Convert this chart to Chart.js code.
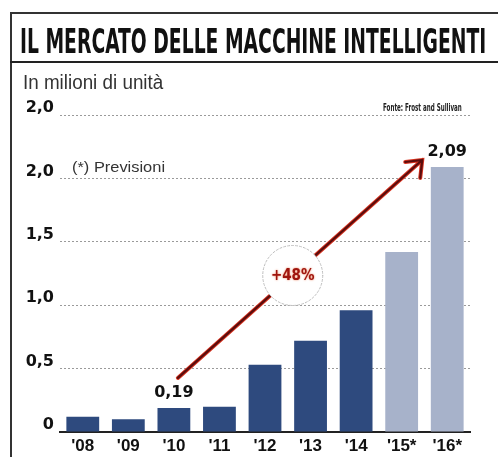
<!DOCTYPE html>
<html lang="it">
<head>
<meta charset="UTF-8">
<title>Il mercato delle macchine intelligenti</title>
<script src="https://cdn.jsdelivr.net/npm/chart.js"></script>
<style>
    * { margin: 0; padding: 0; box-sizing: border-box; }
    body { width: 498px; height: 457px; background: #fff; position: relative; overflow: hidden; }
    #chart { position: absolute; left: 0; top: 0; }
    .txt { position: absolute; white-space: nowrap; line-height: 1; transform-origin: 0 0; }
    .title { left: 20px; top: 21px; font: bold 34px 'DejaVu Sans Condensed', 'DejaVu Sans', sans-serif; color: #111; }
    .sub { left: 23px; top: 70.5px; font: 19.5px 'Liberation Sans', Arial, sans-serif; color: #333; }
    .fonte { left: 383px; top: 101px; font: bold 11px 'DejaVu Sans Condensed', sans-serif; color: #222; }
    .prev { left: 72px; top: 157.5px; font: 15px 'Liberation Sans', Arial, sans-serif; color: #333; }
    .line { position: absolute; background: #333; }
</style>
</head>
<body>
<canvas id="chart" width="498" height="457"></canvas>
<div class="line" style="left:10px; top:12px; width:488px; height:1.5px;"></div>
<div class="line" style="left:10px; top:12px; width:1.5px; height:445px;"></div>
<div class="line" style="left:10px; top:61px; width:488px; height:2px; background:#222;"></div>
<div class="txt title" data-w="466">IL MERCATO DELLE MACCHINE INTELLIGENTI</div>
<div class="txt sub" data-w="140">In milioni di unità</div>
<div class="txt fonte" data-w="79">Fonte: Frost and Sullivan</div>
<div class="txt prev" data-w="93">(*) Previsioni</div>

<script>
    // dati
    const years = ["'08", "'09", "'10", "'11", "'12", "'13", "'14", "'15*", "'16*"];
    const units = [0.12, 0.10, 0.19, 0.20, 0.53, 0.72, 0.96, 1.42, 2.09];
    const forecast = [false, false, false, false, false, false, false, true, true];
    const yTickLabels = ['0', '0,5', '1,0', '1,5', '2,0', '2,0'];
    const labelIndex = [2, 8];
    const labelText = ['0,19', '2,09'];
    const growthText = '+48%';

    // stringe i testi alla larghezza dell'originale
    document.querySelectorAll('.txt').forEach(el => {
        const w = +el.dataset.w;
        el.style.transform = 'scaleX(' + (w / el.offsetWidth) + ')';
    });

    const overlay = {
        id: 'overlay',
        afterDatasetsDraw(chart) {
            const ctx = chart.ctx;
            const x = chart.scales.x, y = chart.scales.y;
            ctx.save();

            // freccia di crescita
            const x0 = x.getPixelForValue(2) + 4, y0 = y.getPixelForValue(units[2]) - 30;
            const x1 = x.getPixelForValue(8) - 25, y1 = y.getPixelForValue(units[8]) - 7;
            const arrow = () => {
                ctx.beginPath();
                ctx.moveTo(x0, y0);
                ctx.lineTo(x1, y1);
                ctx.moveTo(x1 - 17, y1 + 2);
                ctx.lineTo(x1, y1);
                ctx.lineTo(x1 - 2, y1 + 18);
                ctx.stroke();
            };
            ctx.lineCap = 'round';
            ctx.lineJoin = 'miter';
            ctx.strokeStyle = '#d8321f';
            ctx.lineWidth = 4;
            arrow();
            ctx.strokeStyle = '#5a0d0d';
            ctx.lineWidth = 2.2;
            arrow();

            // cerchio con la percentuale
            const t = 0.47;
            const cx = x0 + (x1 - x0) * t, cy = y0 + (y1 - y0) * t;
            ctx.beginPath();
            ctx.arc(cx, cy, 30, 0, Math.PI * 2);
            ctx.fillStyle = '#fff';
            ctx.fill();
            ctx.setLineDash([2, 2]);
            ctx.strokeStyle = '#bdbdbd';
            ctx.lineWidth = 1;
            ctx.stroke();
            ctx.setLineDash([]);
            ctx.font = 'bold 15px "DejaVu Sans Condensed", sans-serif';
            ctx.textAlign = 'center';
            ctx.textBaseline = 'middle';
            ctx.shadowColor = 'rgba(230,90,40,0.8)';
            ctx.shadowBlur = 2;
            ctx.fillStyle = '#9e150f';
            ctx.fillText(growthText, cx, cy + 1);
            ctx.shadowBlur = 0;

            // etichette dei valori
            ctx.font = 'bold 16px "DejaVu Sans", sans-serif';
            ctx.fillStyle = '#111';
            ctx.textBaseline = 'alphabetic';
            labelIndex.forEach((i, k) => {
                ctx.fillText(labelText[k], x.getPixelForValue(i), y.getPixelForValue(units[i]) - 11);
            });
            ctx.restore();
        }
    };

    new Chart(document.getElementById('chart'), {
        type: 'bar',
        data: {
            labels: years,
            datasets: [{
                data: units,
                backgroundColor: forecast.map(f => f ? '#a7b2ca' : '#2e4a7e'),
                barPercentage: 0.72,
                categoryPercentage: 1
            }]
        },
        options: {
            responsive: false,
            animation: false,
            events: [],
            layout: { padding: { top: 115, right: 28, left: 0, bottom: 0 } },
            plugins: { legend: { display: false }, tooltip: { enabled: false } },
            scales: {
                x: {
                    grid: { display: false },
                    border: { display: true, color: '#222', width: 2 },
                    ticks: {
                        color: '#111',
                        padding: -4,
                        font: { family: 'Liberation Sans', weight: 'bold', size: 17 }
                    },
                    afterFit(s) { s.height = 25; }
                },
                y: {
                    min: 0,
                    max: 2.5,
                    grid: { color: '#9a9a9a', lineWidth: 1, drawTicks: false },
                    border: { display: false, dash: [2, 2] },
                    ticks: {
                        stepSize: 0.5,
                        padding: 6,
                        labelOffset: -7,
                        color: '#111',
                        font: { family: 'DejaVu Sans', weight: 'bold', size: 16 },
                        callback: (v, i) => yTickLabels[i]
                    },
                    afterFit(s) { s.width = 60; }
                }
            }
        },
        plugins: [overlay]
    });
</script>
</body>
</html>
